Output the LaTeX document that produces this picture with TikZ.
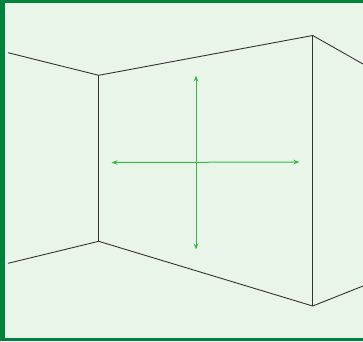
\documentclass[tikz,border=0pt]{standalone}
\usetikzlibrary{arrows.meta}
\definecolor{framegreen}{RGB}{0,132,61}
\definecolor{bggreen}{RGB}{234,245,234}
\definecolor{arrowgreen}{RGB}{52,186,72}
\tikzset{
  wall/.style={draw=black!80, line width=0.9pt},
  guide/.style={draw=arrowgreen, line width=1pt, {Stealth[length=6pt,width=4.5pt]}-{Stealth[length=6pt,width=4.5pt]}}
}
\begin{document}
\begin{tikzpicture}[x=1pt,y=-1pt]
\useasboundingbox (0,0) rectangle (363,341);
\fill[framegreen] (0,0) rectangle (363,341);
\fill[bggreen] (5,2.5) rectangle (363,338);
% corners
\coordinate (lt) at (8,52.7);
\coordinate (lb) at (8,263.3);
\coordinate (a) at (98.7,75.3);
\coordinate (b) at (98.7,241.3);
\coordinate (c) at (312.7,35.5);
\coordinate (d) at (312.7,306);
\coordinate (rt) at (363,64);
\coordinate (rb) at (363,286);
\draw[wall] (lt) -- (a) -- (c) -- (rt);
\draw[wall] (lb) -- (b) -- (d) -- (rb);
\draw[wall] (a) -- (b);
\draw[wall] (c) -- (d);
% guides
\coordinate (hl) at (111.5,162.5);
\coordinate (hr) at (299.5,162);
\coordinate (vt) at (196,75.5);
\coordinate (vb) at (196,249.5);
\draw[guide] (hl) -- (hr);
\draw[guide] (vt) -- (vb);
\end{tikzpicture}
\end{document}
